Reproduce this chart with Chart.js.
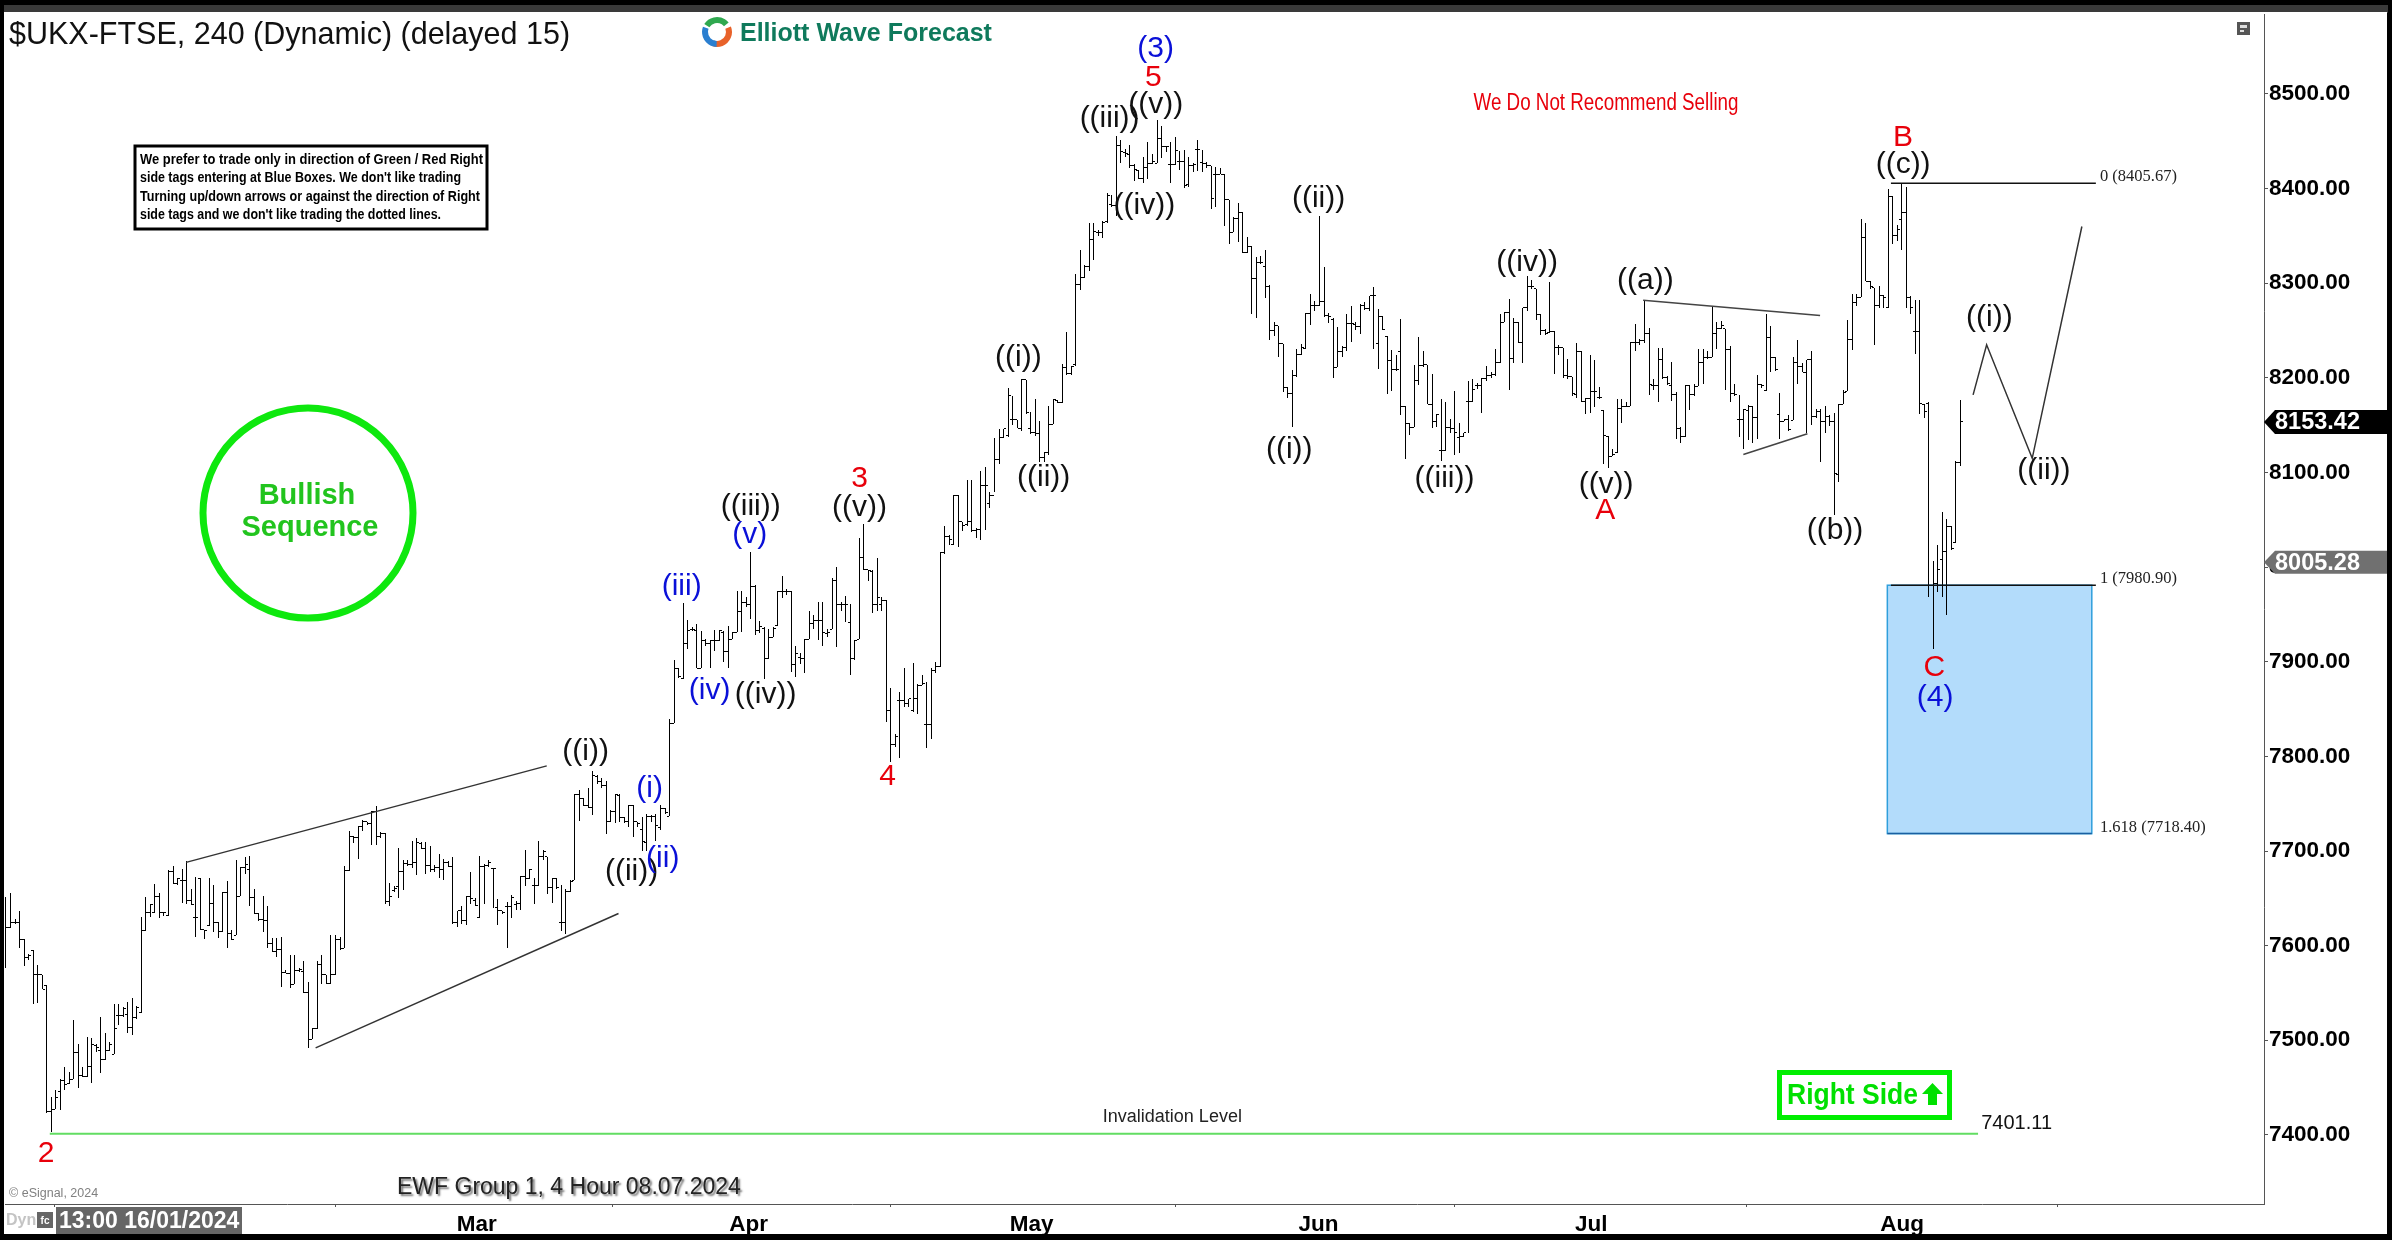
<!DOCTYPE html>
<html>
<head>
<meta charset="utf-8">
<title>$UKX-FTSE</title>
<style>html,body{margin:0;padding:0;background:#000}canvas{display:block}</style>
<script src="https://cdn.jsdelivr.net/npm/chart.js@4/dist/chart.umd.js"></script>
</head>
<body>
<canvas id="chart" width="2392" height="1240"></canvas>
<script>
const highs = [
7651,7656,7628,7637,7607,7591,7595,7580,7569,7558,
7440,7447,7459,7472,7466,7521,7496,7472,7503,7502,
7496,7525,7508,7498,7538,7538,7535,7540,7545,7536,
7630,7651,7644,7665,7656,7636,7680,7684,7672,7681,
7689,7660,7673,7672,7617,7671,7664,7625,7657,7668,
7617,7691,7683,7694,7695,7660,7635,7653,7642,7608,
7608,7609,7574,7590,7590,7576,7584,7562,7513,7584,
7590,7569,7611,7611,7609,7684,7721,7716,7726,7733,
7731,7742,7748,7720,7719,7666,7663,7703,7691,7691,
7711,7714,7710,7710,7705,7685,7697,7692,7689,7694,
7637,7642,7652,7678,7650,7695,7686,7690,7682,7649,
7637,7646,7654,7647,7674,7701,7681,7672,7711,7701,
7694,7672,7672,7664,7660,7669,7760,7764,7756,7767,
7785,7780,7777,7774,7743,7760,7760,7736,7749,7749,
7731,7736,7739,7738,7739,7749,7746,7839,7902,7893,
7962,7944,7937,7940,7932,7924,7923,7934,7934,7932,
7938,7931,7975,7975,7968,8016,7981,7943,7937,7935,
7937,7975,7991,7977,7975,7917,7909,7924,7954,7949,
7963,7963,7935,7988,8000,7963,7970,7961,7923,8031,
8046,7997,7997,8010,7968,7965,7872,7824,7868,7893,
7861,7899,7877,7886,7879,7893,7900,8016,8043,8034,
8076,8076,8048,8092,8092,8041,8102,8106,8079,8136,
8146,8146,8189,8181,8156,8199,8198,8164,8178,8154,
8122,8170,8178,8177,8215,8249,8213,8310,8335,8319,
8364,8364,8356,8366,8395,8393,8456,8451,8442,8446,
8426,8420,8433,8449,8437,8473,8466,8445,8449,8455,
8440,8441,8433,8427,8451,8441,8428,8424,8423,8422,
8415,8388,8370,8385,8375,8349,8339,8328,8329,8335,
8298,8259,8255,8236,8190,8208,8230,8236,8269,8289,
8281,8371,8317,8269,8263,8254,8234,8267,8276,8259,
8278,8280,8287,8296,8273,8265,8244,8229,8224,8262,
8170,8152,8214,8243,8228,8214,8204,8162,8178,8174,
8157,8186,8152,8142,8197,8199,8195,8200,8213,8206,
8230,8267,8270,8283,8263,8259,8274,8308,8303,8294,
8267,8252,8301,8250,8235,8232,8220,8201,8237,8228,
8179,8224,8219,8190,8166,8139,8125,8178,8178,8174,
8238,8257,8241,8281,8253,8199,8232,8232,8202,8217,
8185,8148,8192,8192,8194,8230,8231,8228,8276,8259,
8260,8252,8234,8194,8182,8167,8171,8170,8203,8194,
8268,8255,8222,8184,8157,8161,8222,8240,8216,8219,
8228,8167,8167,8170,8161,8163,8172,8187,8261,8289,
8289,8368,8364,8302,8295,8297,8288,8400,8392,8362,
8405.67,8402,8287,8282,8282,8172,8174,8006,8023,8058,
8051,8043,8112,8177
];
const lows = [
7576,7619,7623,7598,7578,7585,7538,7539,7554,7423,
7403,7427,7426,7447,7454,7459,7450,7461,7461,7455,
7488,7465,7479,7489,7485,7516,7525,7508,7506,7522,
7529,7616,7630,7635,7629,7631,7631,7665,7664,7645,
7644,7643,7609,7617,7607,7621,7614,7608,7614,7598,
7606,7611,7652,7676,7642,7633,7626,7614,7598,7593,
7588,7556,7571,7555,7559,7572,7550,7492,7501,7512,
7560,7559,7559,7569,7595,7597,7679,7708,7692,7721,
7728,7706,7706,7714,7644,7642,7657,7650,7659,7684,
7682,7675,7702,7676,7678,7678,7672,7669,7683,7623,
7620,7623,7622,7644,7642,7629,7644,7683,7640,7622,
7633,7597,7629,7638,7638,7663,7670,7644,7663,7691,
7655,7645,7660,7615,7612,7657,7669,7732,7748,7745,
7738,7771,7767,7718,7731,7730,7731,7730,7725,7715,
7725,7700,7700,7731,7711,7722,7739,7737,7835,7883,
7882,7913,7932,7893,7893,7917,7893,7911,7922,7900,
7893,7924,7931,7931,7958,7945,7928,7930,7882,7903,
7926,7938,7967,7971,7889,7884,7898,7888,7924,7935,
7923,7917,7926,7935,7916,7954,7942,7886,7902,7924,
7997,7985,7952,7954,7954,7836,7794,7810,7798,7852,
7852,7847,7845,7875,7809,7818,7888,7895,8014,8023,
8023,8021,8038,8044,8037,8031,8029,8039,8062,8079,
8109,8136,8137,8150,8147,8144,8162,8141,8139,8111,
8111,8119,8151,8173,8173,8203,8203,8213,8293,8306,
8313,8325,8350,8348,8364,8381,8371,8427,8433,8422,
8408,8410,8406,8410,8426,8427,8432,8439,8406,8425,
8420,8401,8402,8418,8419,8418,8422,8378,8381,8415,
8361,8342,8354,8344,8332,8332,8267,8263,8320,8284,
8240,8244,8222,8185,8179,8148,8201,8224,8231,8256,
8271,8276,8264,8258,8200,8211,8222,8228,8238,8251,
8246,8272,8271,8230,8209,8251,8183,8186,8207,8161,
8114,8140,8148,8193,8211,8172,8147,8148,8112,8123,
8142,8119,8121,8137,8142,8175,8188,8163,8197,8200,
8202,8216,8259,8187,8216,8237,8216,8271,8294,8261,
8245,8245,8247,8204,8224,8200,8199,8181,8179,8174,
8162,8163,8169,8178,8109,8105,8117,8121,8152,8169,
8170,8228,8235,8237,8182,8187,8174,8199,8192,8176,
8135,8131,8137,8166,8181,8191,8194,8220,8222,8230,
8252,8187,8174,8181,8137,8125,8134,8131,8135,8189,
8186,8206,8207,8135,8154,8144,8155,8194,8206,8142,
8150,8158,8111,8142,8149,8055,8090,8172,8186,8229,
8276,8285,8302,8294,8235,8274,8274,8274,8342,8345,
8335,8274,8267,8225,8162,8158,7968,7914,7974,7968,
7949,8018,8025,8107
];
const opens = [
7639,7619,7625,7625,7607,7587,7595,7569,7569,7558,
7425,7427,7446,7458,7454,7459,7487,7463,7462,7472,
7494,7489,7480,7489,7485,7526,7526,7527,7513,7524,
7529,7616,7635,7635,7652,7635,7632,7678,7666,7669,
7669,7648,7630,7671,7617,7621,7645,7625,7615,7656,
7613,7611,7652,7683,7681,7651,7634,7628,7627,7602,
7594,7596,7572,7571,7559,7574,7573,7551,7501,7512,
7580,7569,7560,7569,7607,7597,7679,7715,7714,7726,
7731,7729,7742,7715,7718,7647,7658,7662,7678,7687,
7686,7688,7708,7703,7685,7680,7683,7681,7688,7684,
7624,7637,7627,7652,7648,7630,7684,7685,7682,7640,
7637,7641,7641,7643,7645,7673,7671,7664,7664,7694,
7694,7661,7671,7625,7625,7657,7669,7760,7756,7748,
7746,7779,7773,7769,7731,7742,7759,7735,7731,7748,
7731,7723,7709,7737,7736,7725,7745,7737,7835,7893,
7882,7919,7934,7933,7893,7922,7919,7922,7923,7931,
7911,7924,7931,7953,7963,7961,7980,7933,7935,7903,
7926,7938,7974,7974,7974,7897,7905,7903,7924,7940,
7944,7944,7930,7934,7986,7961,7960,7941,7903,7924,
8010,7997,7995,7961,7961,7965,7849,7813,7859,7859,
7856,7848,7861,7875,7834,7834,7891,7895,8015,8032,
8024,8076,8048,8045,8048,8039,8040,8086,8067,8076,
8114,8137,8139,8156,8156,8147,8198,8146,8142,8141,
8116,8121,8151,8176,8174,8211,8205,8214,8299,8306,
8318,8346,8354,8354,8365,8383,8382,8446,8438,8436,
8424,8419,8411,8422,8427,8427,8453,8444,8425,8425,
8429,8429,8404,8424,8441,8428,8427,8424,8415,8415,
8415,8388,8354,8368,8375,8332,8339,8305,8322,8318,
8297,8250,8255,8236,8190,8183,8203,8225,8231,8268,
8276,8276,8281,8266,8262,8211,8228,8232,8257,8256,
8254,8277,8273,8287,8236,8265,8244,8218,8209,8228,
8170,8152,8148,8197,8213,8214,8172,8154,8123,8123,
8148,8147,8137,8138,8175,8175,8192,8192,8199,8203,
8204,8216,8259,8269,8221,8259,8237,8274,8297,8294,
8267,8250,8248,8249,8232,8232,8202,8201,8182,8228,
8175,8178,8186,8179,8166,8138,8117,8121,8168,8170,
8170,8237,8237,8239,8247,8192,8192,8219,8200,8192,
8182,8147,8138,8192,8182,8191,8216,8222,8222,8247,
8252,8252,8230,8184,8156,8156,8166,8170,8158,8193,
8187,8243,8222,8161,8154,8156,8155,8216,8212,8206,
8219,8159,8164,8154,8159,8154,8098,8172,8186,8241,
8280,8285,8348,8302,8295,8276,8287,8274,8392,8350,
8367,8375,8285,8249,8249,8172,8173,7981,7983,8008,
8016,8043,8026,8111
];
const closes = [
7619,7625,7625,7607,7587,7590,7569,7569,7554,7425,
7427,7440,7458,7453,7459,7487,7463,7462,7472,7496,
7492,7480,7489,7496,7512,7526,7534,7513,7524,7535,
7616,7635,7644,7652,7635,7635,7678,7666,7671,7669,
7648,7644,7630,7617,7616,7645,7625,7615,7656,7613,
7607,7652,7683,7686,7651,7634,7628,7627,7602,7594,
7596,7572,7571,7559,7574,7575,7551,7501,7512,7580,
7569,7560,7569,7607,7597,7679,7715,7714,7726,7731,
7729,7742,7715,7718,7647,7652,7660,7678,7687,7686,
7688,7709,7703,7685,7680,7683,7681,7688,7684,7624,
7637,7627,7652,7650,7642,7684,7685,7688,7682,7637,
7635,7641,7651,7645,7673,7671,7680,7664,7694,7700,
7661,7671,7661,7625,7657,7668,7760,7756,7748,7746,
7780,7773,7769,7731,7742,7760,7735,7731,7748,7731,
7729,7710,7737,7736,7727,7745,7741,7835,7893,7884,
7919,7933,7934,7893,7922,7919,7922,7923,7933,7911,
7924,7931,7953,7963,7961,7980,7933,7937,7903,7926,
7935,7974,7974,7974,7897,7909,7903,7924,7940,7944,
7944,7931,7931,7986,7961,7960,7960,7903,7922,8010,
7997,7996,7961,7968,7965,7849,7813,7821,7859,7856,
7861,7861,7875,7877,7834,7891,7895,8015,8032,8029,
8076,8048,8044,8048,8039,8040,8086,8086,8076,8114,
8137,8146,8181,8156,8147,8198,8163,8142,8141,8116,
8121,8151,8177,8174,8211,8205,8212,8299,8306,8318,
8346,8355,8354,8364,8393,8382,8446,8439,8437,8424,
8420,8411,8422,8427,8429,8453,8444,8444,8425,8440,
8429,8403,8424,8426,8441,8427,8424,8390,8415,8415,
8388,8354,8368,8375,8332,8339,8305,8322,8322,8297,
8250,8255,8236,8190,8183,8203,8225,8232,8268,8276,
8276,8281,8266,8265,8211,8228,8232,8257,8257,8254,
8277,8273,8287,8287,8265,8251,8218,8209,8209,8170,
8152,8148,8197,8213,8214,8172,8154,8161,8123,8148,
8147,8142,8138,8142,8175,8188,8192,8199,8202,8204,
8216,8259,8269,8221,8259,8237,8274,8297,8297,8267,
8250,8247,8249,8232,8232,8202,8201,8183,8228,8175,
8178,8186,8186,8179,8139,8117,8119,8168,8170,8170,
8237,8237,8239,8247,8193,8192,8219,8200,8194,8182,
8147,8138,8192,8182,8191,8216,8222,8222,8247,8252,
8255,8230,8184,8182,8156,8167,8170,8158,8193,8192,
8243,8222,8209,8154,8156,8145,8216,8212,8206,8219,
8159,8164,8154,8159,8154,8099,8172,8185,8241,8280,
8285,8348,8302,8297,8276,8287,8285,8392,8350,8357,
8375,8285,8274,8249,8173,8164,7981,7983,7998,8016,
8043,8020,8111,8153.42
];

// axis
const priceTicks = [7400,7500,7600,7700,7800,7900,8000,8100,8200,8300,8400,8500];
const monthTickBars = [41.9,104.3,164.5,227.2,290.8,351.2,420.1];
const monthLabels = ['','Mar','Apr','May','Jun','Jul','Aug'];

// wave counts: text, bar, price, colour
const BLK = '#111', RED = '#e8000b', BLU = '#0a10d8';
const waveLabels = [
  ['2',8.9,7379,RED],['((i))',128.4,7804,BLK],['((ii))',138.6,7677,BLK],['(i)',142.6,7765,BLU],
  ['(ii)',145.5,7691,BLU],['((iii))',165,8063,BLK],['(v)',164.8,8033,BLU],['(iii)',149.7,7978,BLU],
  ['(iv)',155.9,7868,BLU],['((iv))',168.3,7864,BLK],['3',189.1,8092,RED],['((v))',189.1,8062,BLK],
  ['4',195.3,7777,RED],['((i))',224.3,8220,BLK],['((ii))',229.9,8093,BLK],['(3)',254.7,8547,BLU],
  ['5',254.2,8516,RED],['((iii))',244.5,8473,BLK],['((v))',254.7,8488,BLK],['((iv))',252.2,8381,BLK],
  ['((i))',284.3,8123,BLK],['((ii))',290.8,8388,BLK],['((iii))',318.7,8092,BLK],['((iv))',337,8321,BLK],
  ['((a))',363.2,8302,BLK],['((v))',354.5,8086,BLK],['A',354.3,8059,RED],['((b))',405.2,8037,BLK],
  ['B',420.3,8453,RED],['((c))',420.3,8424,BLK],['C',427.2,7893,RED],['(4)',427.4,7861,BLU],
  ['((i))',439.4,8262,BLK],['((ii))',451.5,8101,BLK]
];

// drawn lines, as [bar, price] pairs
const wedgeUpper = [[39.9,7688],[119.8,7790]];
const wedgeLower = [[68.6,7492],[135.7,7634]];
const triangleUpper = [[362.7,8282],[401.9,8266]];
const triangleLower = [[384.9,8119],[399.1,8141]];
const forecastPath = [[435.8,8182],[438.8,8235],[448.9,8115],[459.9,8360]];
const fibZero = [[417.6,8405.67],[463,8405.67]];
const fibOne = [[417.6,7980.9],[463,7980.9]];
const fibExt = [[416.8,7718.4],[462.1,7718.4]];
const invalidation = [[9.7,7401.11],[436.9,7401.11]];

function lineSet(pts, color, width) {
  return {
    type: 'line',
    data: pts.map(p => ({ x: p[0], y: p[1] })),
    borderColor: color,
    borderWidth: width,
    pointRadius: 0,
    tension: 0
  };
}

// open / close dash, stem column is the middle pixel
function tickImage(side) {
  const c = document.createElement('canvas');
  c.width = 5;
  c.height = 1;
  const g = c.getContext('2d');
  g.fillStyle = '#000';
  g.fillRect(side === 'left' ? 0 : 3, 0, 2, 1);
  return c;
}

function tickSet(values, side) {
  return {
    type: 'line',
    data: values.map((v, i) => ({ x: i, y: v })),
    showLine: false,
    pointRadius: 3,
    pointStyle: tickImage(side)
  };
}

function put(ctx, s, x, y, font, color, align, maxW) {
  ctx.font = font;
  ctx.fillStyle = color;
  ctx.textAlign = align || 'center';
  ctx.textBaseline = 'middle';
  if (maxW) ctx.fillText(s, x, y, maxW);
  else ctx.fillText(s, x, y);
}

const SANS = '"Liberation Sans", Arial, sans-serif';
const SERIF = '"Liberation Serif", "Times New Roman", serif';

const overlay = {
  id: 'overlay',
  beforeDraw(chart) {
    const ctx = chart.ctx;
    ctx.save();
    ctx.fillStyle = '#000';
    ctx.fillRect(0, 0, 2392, 1240);
    ctx.fillStyle = '#3a3a3a';
    ctx.fillRect(4, 5, 2384, 8);
    ctx.fillStyle = '#fff';
    ctx.fillRect(4, 12, 2383, 1222);
    ctx.restore();
  },
  beforeDatasetsDraw(chart) {
    const ctx = chart.ctx, sx = chart.scales.x, sy = chart.scales.y;
    // pixel snap so the thin stems stay crisp
    chart.data.datasets.forEach((d, n) => {
      if (!d.snap) return;
      chart.getDatasetMeta(n).data.forEach(el => {
        el.x = Math.floor(el.x) + 0.5;
        if (d.type === 'bar') {
          el.y = Math.round(el.y);
          el.base = Math.round(el.base);
        } else {
          el.y = Math.floor(el.y) + 0.5;
        }
      });
    });
    // blue box between the fib levels
    const bx = sx.getPixelForValue(fibExt[0][0]), bx2 = sx.getPixelForValue(fibExt[1][0]);
    const by = sy.getPixelForValue(fibOne[0][1]), by2 = sy.getPixelForValue(fibExt[0][1]);
    ctx.save();
    ctx.fillStyle = '#b3dcfb';
    ctx.fillRect(bx, by, bx2 - bx, by2 - by);
    ctx.strokeStyle = '#2f9fdc';
    ctx.lineWidth = 1.5;
    ctx.strokeRect(bx, by, bx2 - bx, by2 - by);
    ctx.restore();
  },
  afterDraw(chart) {
    const ctx = chart.ctx, sx = chart.scales.x, sy = chart.scales.y;
    ctx.save();

    waveLabels.forEach(l => {
      put(ctx, l[0], sx.getPixelForValue(l[1]), sy.getPixelForValue(l[2]) - 1, '30px ' + SANS, l[3]);
    });

    // fib + invalidation captions
    const capX = sx.getPixelForValue(463.9);
    put(ctx, '0 (8405.67)', capX, sy.getPixelForValue(8413), '16.5px ' + SERIF, '#222', 'left');
    put(ctx, '1 (7980.90)', capX, sy.getPixelForValue(7988), '16.5px ' + SERIF, '#222', 'left');
    put(ctx, '1.618 (7718.40)', capX, sy.getPixelForValue(7725), '16.5px ' + SERIF, '#222', 'left');
    put(ctx, '7401.11', sx.getPixelForValue(437.6), sy.getPixelForValue(7412), '20px ' + SANS, '#111', 'left');
    put(ctx, 'Invalidation Level', sx.getPixelForValue(258.4), sy.getPixelForValue(7419), '18px ' + SANS, '#222');

    // header
    put(ctx, '$UKX-FTSE, 240 (Dynamic) (delayed 15)', 9, 36, '30.5px ' + SANS, '#111', 'left');
    ctx.lineWidth = 6;
    [['#2fa84f', 3.7, 5.6], ['#e8622a', 5.9, 8.2], ['#2a7fd0', 1.6, 3.5]].forEach(a => {
      ctx.strokeStyle = a[0];
      ctx.beginPath();
      ctx.arc(717, 32, 12, a[1], a[2]);
      ctx.stroke();
    });
    put(ctx, 'Elliott Wave Forecast', 740, 34, 'bold 25px ' + SANS, '#0f7a5c', 'left');
    put(ctx, 'We Do Not Recommend Selling', 1606, 104, '23px ' + SANS, '#e8000b', 'center', 265);

    // small note box
    ctx.fillStyle = '#fff';
    ctx.fillRect(135, 146, 352, 83);
    ctx.strokeStyle = '#000';
    ctx.lineWidth = 3;
    ctx.strokeRect(135, 146, 352, 83);
    const noteFont = 'bold 15px ' + SANS;
    put(ctx, 'We prefer to trade only in direction of Green / Red Right', 140, 160, noteFont, '#000', 'left', 343);
    put(ctx, "side tags entering at Blue Boxes. We don't like trading", 140, 178, noteFont, '#000', 'left', 321);
    put(ctx, 'Turning up/down arrows or against the direction of Right', 140, 197, noteFont, '#000', 'left', 340);
    put(ctx, "side tags and we don't like trading the dotted lines.", 140, 215, noteFont, '#000', 'left', 301);

    // bullish badge
    ctx.strokeStyle = '#0ee80e';
    ctx.lineWidth = 7;
    ctx.beginPath();
    ctx.arc(308, 513, 105, 0, Math.PI * 2);
    ctx.stroke();
    put(ctx, 'Bullish', 307, 496, 'bold 29px ' + SANS, '#22c41e');
    put(ctx, 'Sequence', 310, 528, 'bold 29px ' + SANS, '#22c41e');

    // right side tag
    ctx.strokeStyle = '#00ee00';
    ctx.lineWidth = 5;
    ctx.strokeRect(1779.5, 1072.5, 170, 45);
    put(ctx, 'Right Side', 1787, 1096, 'bold 30px ' + SANS, '#00e000', 'left', 131);
    ctx.fillStyle = '#00e000';
    ctx.beginPath();
    ctx.moveTo(1932.5, 1083);
    ctx.lineTo(1943, 1094);
    ctx.lineTo(1937, 1094);
    ctx.lineTo(1937, 1105);
    ctx.lineTo(1928, 1105);
    ctx.lineTo(1928, 1094);
    ctx.lineTo(1922, 1094);
    ctx.closePath();
    ctx.fill();

    // footer
    ctx.save();
    ctx.shadowColor = 'rgba(0,0,0,0.55)';
    ctx.shadowOffsetX = 2;
    ctx.shadowOffsetY = 2;
    ctx.shadowBlur = 2;
    put(ctx, 'EWF Group 1, 4 Hour 08.07.2024', 397, 1188, '23px ' + SANS, '#222', 'left');
    ctx.restore();
    put(ctx, '\u00a9 eSignal, 2024', 9, 1194, '12.5px ' + SANS, '#808080', 'left');
    put(ctx, 'Dyn', 6, 1221, 'bold 16px ' + SANS, '#c4c4c4', 'left');
    ctx.fillStyle = '#666';
    ctx.fillRect(37, 1212, 16, 16);
    put(ctx, 'fc', 45, 1221, 'bold 10px ' + SANS, '#fff');
    ctx.fillStyle = '#666';
    ctx.fillRect(56, 1207, 186, 27);
    put(ctx, '13:00 16/01/2024', 59, 1222, 'bold 23px ' + SANS, '#fff', 'left');

    // top right icon
    ctx.fillStyle = '#555';
    ctx.fillRect(2237, 22, 13, 13);
    ctx.fillStyle = '#ddd';
    ctx.fillRect(2240, 25, 7, 3);
    ctx.fillRect(2240, 30, 4, 2);

    // last price tags
    priceTag(ctx, sy.getPixelForValue(8153.42), '8153.42', '#000', 12);
    priceTag(ctx, sy.getPixelForValue(8005.28), '8005.28', '#707070', 11.5);
    ctx.restore();
  }
};

function priceTag(ctx, y, text, color, half) {
  ctx.fillStyle = color;
  ctx.beginPath();
  ctx.moveTo(2264, y);
  ctx.lineTo(2275, y - half);
  ctx.lineTo(2387, y - half);
  ctx.lineTo(2387, y + half);
  ctx.lineTo(2275, y + half);
  ctx.closePath();
  ctx.fill();
  put(ctx, text, 2275, y + 1, 'bold 23.5px ' + SANS, '#fff', 'left');
}

const axisFont = { family: SANS, size: 22.5, weight: 'bold' };

new Chart(document.getElementById('chart'), {
  type: 'bar',
  data: {
    datasets: [
      lineSet(fibZero, '#111', 1.5),
      lineSet(fibOne, '#111', 1.5),
      lineSet(fibExt, '#1a5fa0', 1.5),
      lineSet(wedgeUpper, '#333', 1.5),
      lineSet(wedgeLower, '#333', 1.5),
      lineSet(triangleUpper, '#444', 1.5),
      lineSet(triangleLower, '#444', 1.5),
      lineSet(forecastPath, '#333', 1.5),
      lineSet(invalidation, '#62dd62', 2),
      Object.assign(tickSet(opens, 'left'), { snap: true }),
      Object.assign(tickSet(closes, 'right'), { snap: true }),
      {
        type: 'bar',
        snap: true,
        data: highs.map((h, i) => ({ x: i, y: [lows[i], h] })),
        backgroundColor: '#000',
        borderWidth: 0,
        barThickness: 1,
        inflateAmount: 0
      }
    ]
  },
  plugins: [overlay],
  options: {
    responsive: false,
    animation: false,
    events: [],
    devicePixelRatio: 1,
    layout: { padding: { left: 4, top: 12, right: 0, bottom: 0 } },
    plugins: { legend: { display: false }, tooltip: { enabled: false } },
    scales: {
      x: {
        type: 'linear',
        offset: false,
        min: -0.2215,
        max: 500.25,
        afterFit(scale) { scale.height = 36; },
        afterBuildTicks(scale) { scale.ticks = monthTickBars.map(v => ({ value: v })); },
        grid: { drawOnChartArea: false, tickLength: 3, color: '#555' },
        border: { color: '#555', width: 1 },
        ticks: {
          autoSkip: false,
          maxRotation: 0,
          padding: 4,
          color: '#000',
          font: axisFont,
          callback: (v) => monthLabels[monthTickBars.indexOf(v)]
        }
      },
      y: {
        position: 'right',
        min: 7327,
        max: 8584,
        afterFit(scale) { scale.width = 128; },
        afterBuildTicks(scale) { scale.ticks = priceTicks.map(v => ({ value: v })); },
        grid: { drawOnChartArea: false, tickLength: 4, color: '#555' },
        border: { color: '#555', width: 1 },
        ticks: {
          padding: 1,
          color: '#000',
          font: axisFont,
          callback: (v) => v.toFixed(2)
        }
      }
    }
  }
});
</script>
</body>
</html>
